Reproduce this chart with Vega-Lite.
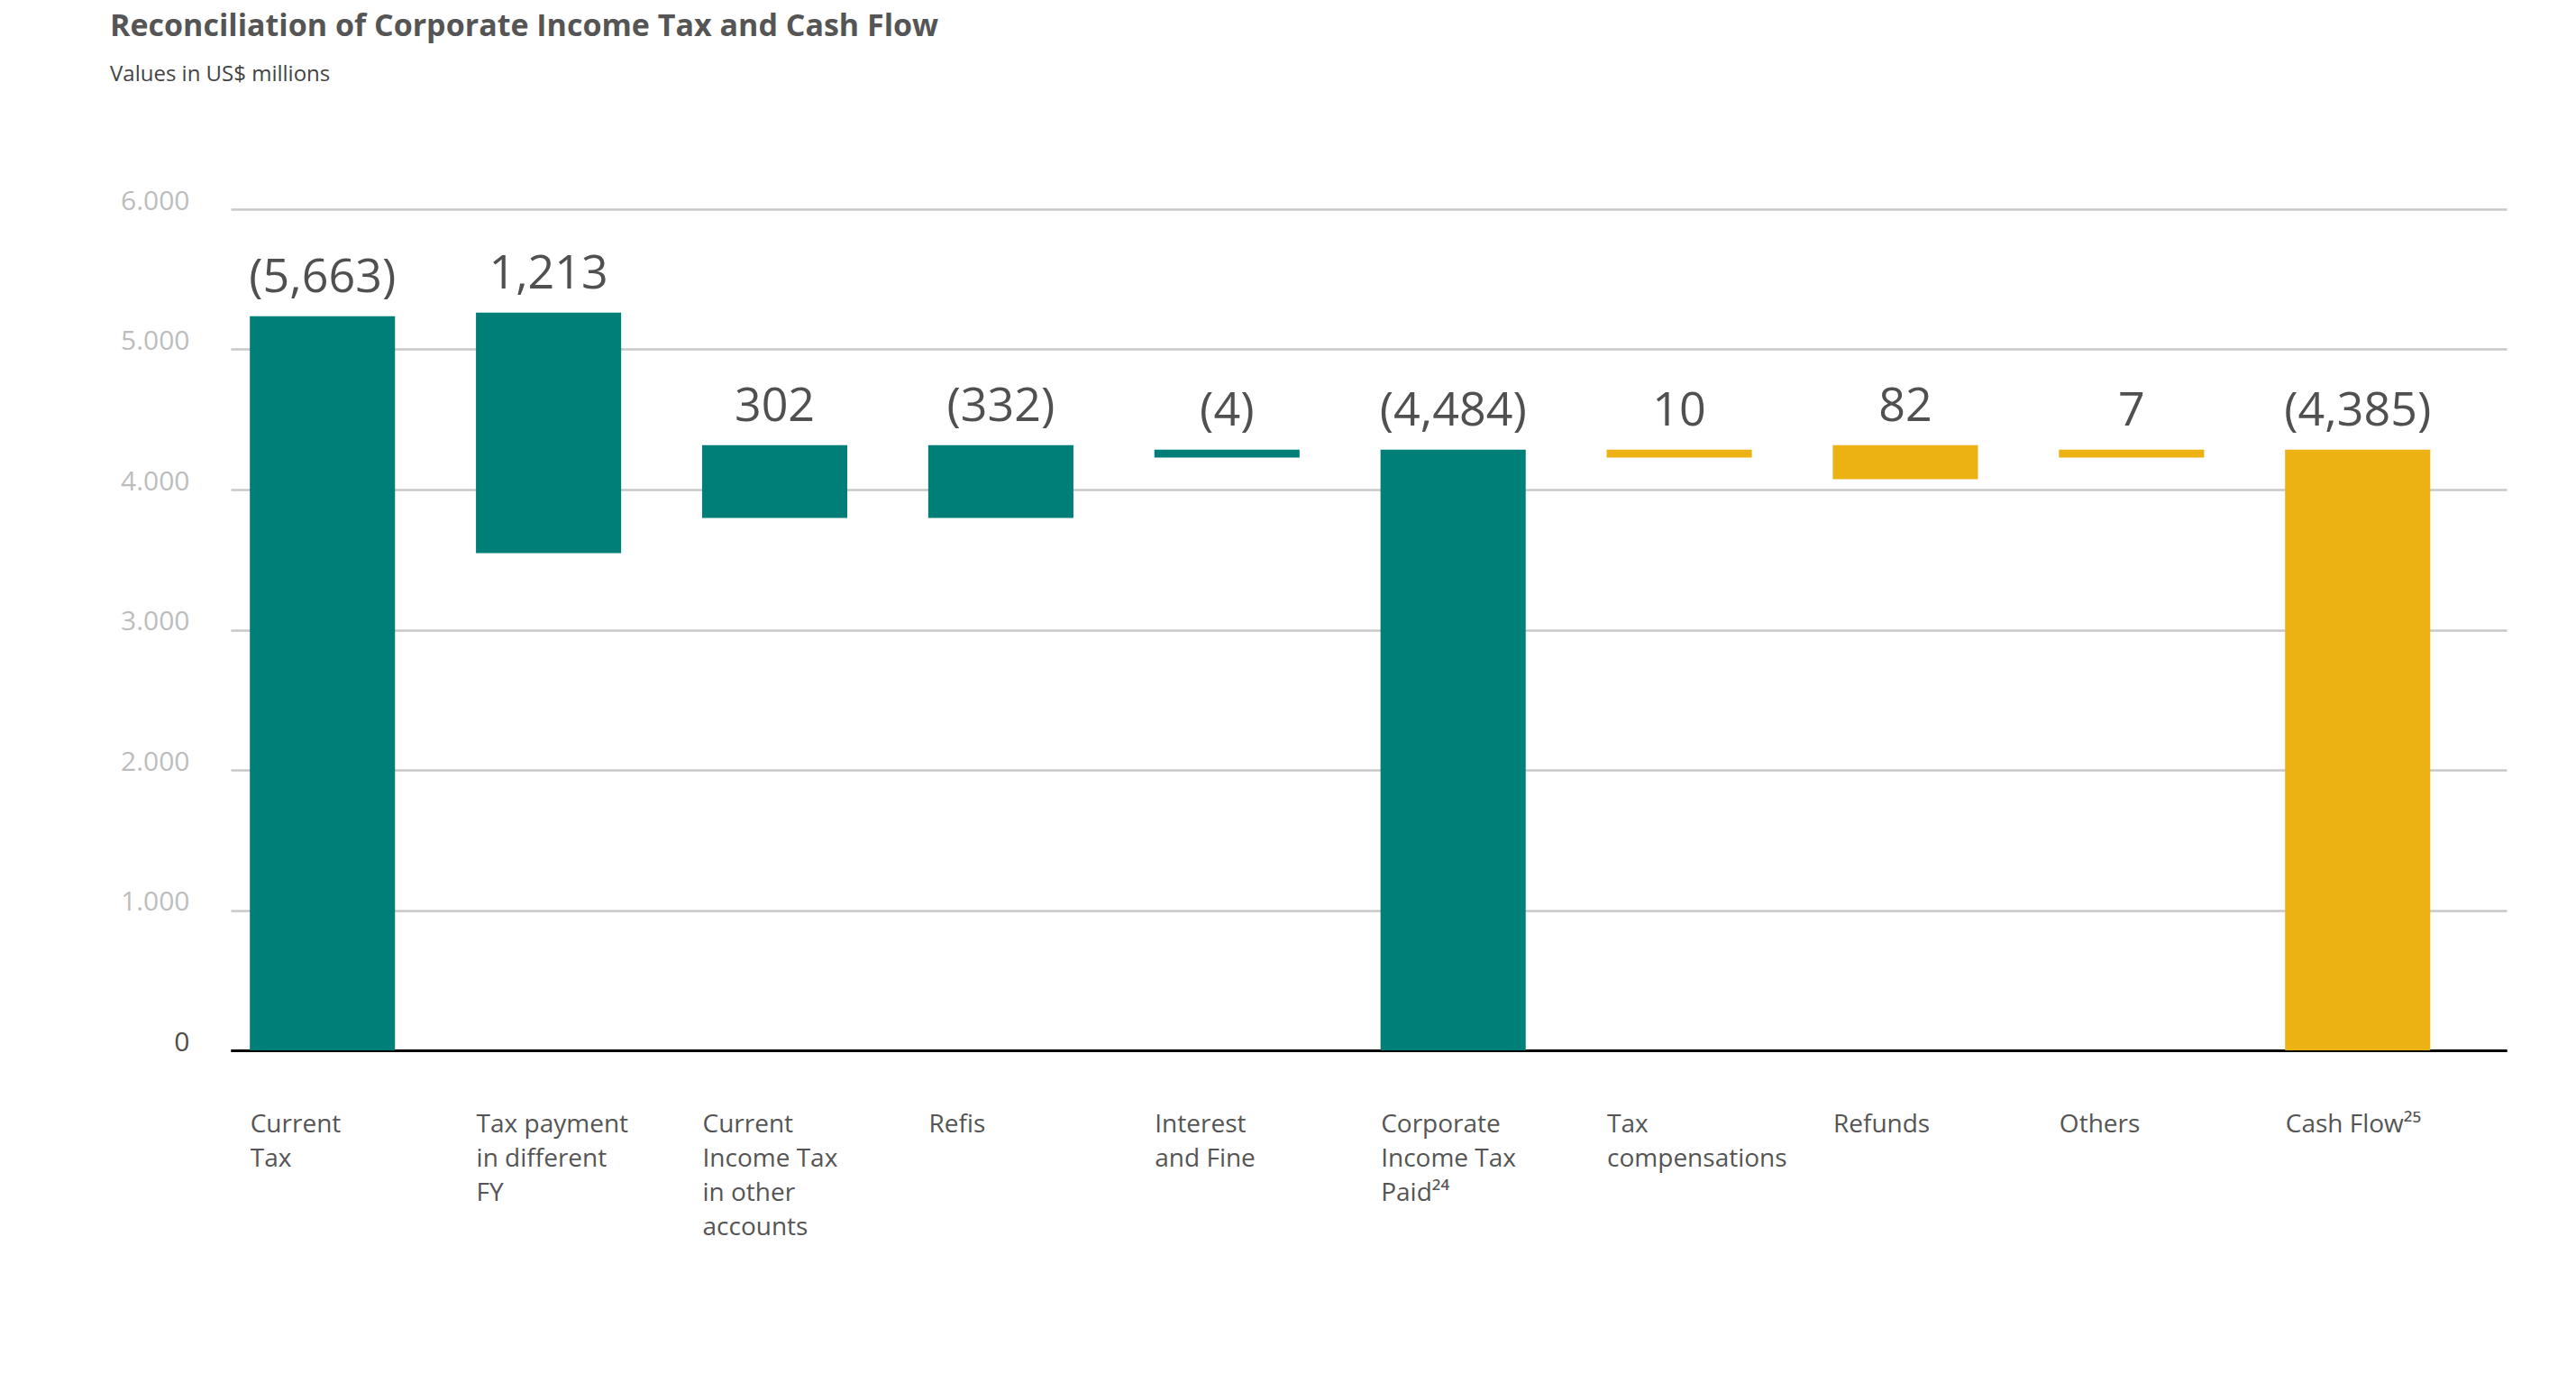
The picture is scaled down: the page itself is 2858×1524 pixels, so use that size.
{
  "$schema": "https://vega.github.io/schema/vega-lite/v6.json",
  "width": 2525,
  "height": 933,
  "autosize": {"type": "none"},
  "padding": {"left": 256, "top": 232, "right": 77, "bottom": 359},
  "background": "white",
  "title": {
    "text": "Reconciliation of Corporate Income Tax and Cash Flow",
    "subtitle": "Values in US$ millions",
    "anchor": "start",
    "frame": "group",
    "dx": -134,
    "offset": 113,
    "font": "Open Sans",
    "fontSize": 34,
    "fontWeight": "bold",
    "color": "#555555",
    "subtitleFont": "Open Sans",
    "subtitleFontSize": 24,
    "subtitleColor": "#444444",
    "subtitlePadding": 24
  },
  "data": {
    "values": [
      {"name": "Current|Tax", "hi": 5236, "lo": 0, "label": "(5,663)", "group": "tax"},
      {"name": "Tax payment|in different|FY", "hi": 5262, "lo": 3546, "label": "1,213", "group": "tax"},
      {"name": "Current|Income Tax|in other|accounts", "hi": 4316, "lo": 3797, "label": "302", "group": "tax"},
      {"name": "Refis", "hi": 4316, "lo": 3797, "label": "(332)", "group": "tax"},
      {"name": "Interest|and Fine", "hi": 4284, "lo": 4228, "label": "(4)", "group": "tax"},
      {"name": "Corporate|Income Tax|Paid²⁴", "hi": 4284, "lo": 0, "label": "(4,484)", "group": "tax"},
      {"name": "Tax|compensations", "hi": 4284, "lo": 4228, "label": "10", "group": "cash"},
      {"name": "Refunds", "hi": 4316, "lo": 4074, "label": "82", "group": "cash"},
      {"name": "Others", "hi": 4284, "lo": 4228, "label": "7", "group": "cash"},
      {"name": "Cash Flow²⁵", "hi": 4284, "lo": 0, "label": "(4,385)", "group": "cash"}
    ]
  },
  "encoding": {
    "x": {
      "field": "name",
      "type": "nominal",
      "sort": null,
      "scale": {"paddingInner": 0.358, "paddingOuter": 0.211, "align": 0.2},
      "axis": {
        "title": null,
        "labelAlign": "left",
        "labelOffset": -80,
        "labelAngle": 0,
        "labelBaseline": "top",
        "labelPadding": 68,
        "labelFont": "Open Sans",
        "labelFontSize": 28,
        "labelColor": "#555555",
        "labelLineHeight": 38,
        "labelExpr": "split(datum.label, '|')",
        "labelOverlap": false,
        "labelBound": false,
        "labelLimit": 400,
        "ticks": false,
        "grid": false,
        "domainColor": "#000000",
        "domainWidth": 3
      }
    }
  },
  "layer": [
    {
      "mark": {"type": "bar"},
      "encoding": {
        "y": {
          "field": "hi",
          "type": "quantitative",
          "scale": {"domain": [0, 6000], "nice": false, "zero": true},
          "axis": {
            "title": null,
            "values": [0, 1000, 2000, 3000, 4000, 5000, 6000],
            "labelExpr": "replace(format(datum.value, ','), ',', '.')",
            "labelFont": "Open Sans",
            "labelFontSize": 30,
            "labelColor": {"condition": {"test": "datum.value === 0", "value": "#4d4d4d"}, "value": "#bdbdbd"},
            "labelBaseline": "alphabetic",
            "labelPadding": 46,
            "ticks": false,
            "domain": false,
            "gridColor": {"condition": {"test": "datum.value === 0", "value": "#000000"}, "value": "#c8c8c8"},
            "gridWidth": 2.5
          }
        },
        "y2": {"field": "lo"},
        "color": {
          "field": "group",
          "type": "nominal",
          "scale": {"domain": ["tax", "cash"], "range": ["#007f78", "#ecb113"]},
          "legend": null
        }
      }
    },
    {
      "mark": {"type": "text", "dy": -27, "baseline": "alphabetic", "align": "center", "font": "Open Sans", "fontSize": 52, "color": "#505050"},
      "encoding": {
        "y": {"field": "hi", "type": "quantitative"},
        "text": {"field": "label"}
      }
    }
  ],
  "config": {"view": {"stroke": null}}
}
